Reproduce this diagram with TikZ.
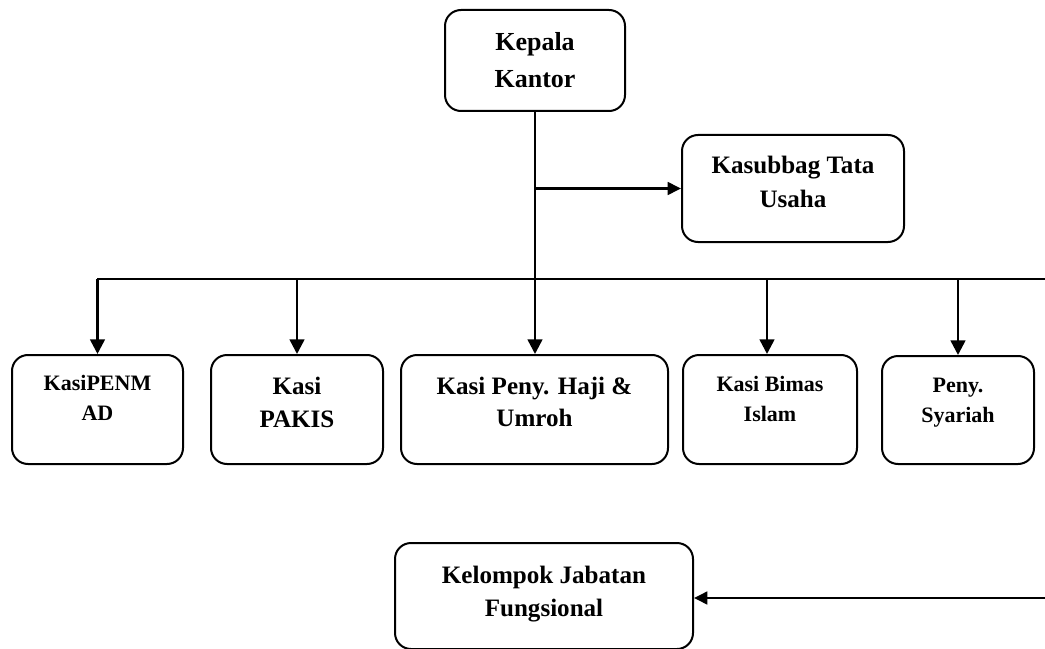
\documentclass[tikz,border=0pt]{standalone}
\usepackage{fontspec}
\setmainfont{Liberation Serif}
\usetikzlibrary{arrows.meta}
\newcommand{\twoline}[3]{\vtop{\baselineskip=#3\relax\halign{\hfil##\hfil\cr #1\cr #2\cr}}}
\tikzset{
  box/.style={draw, line width=1.5pt, rounded corners=12pt, inner sep=0pt, anchor=north west},
  bigtxt/.style={font=\bfseries\fontsize{18.8}{22}\selectfont},
  smalltxt/.style={font=\bfseries\fontsize{16.5}{20}\selectfont},
  arr/.style={line width=1.9pt, -{Triangle[length=11pt,width=11pt]}},
  arrs/.style={line width=1.9pt, -{Triangle[length=10pt,width=9.5pt]}},
  bus/.style={line width=1.2pt}
}
\begin{document}
\begin{tikzpicture}[x=0.75pt,y=-0.75pt]
\useasboundingbox (0,0) rectangle (1045,649);
% boxes
\node[box, minimum width=135pt, text height=30.75pt, text depth=45pt, font=\bfseries\fontsize{19.5}{22}\selectfont] (kepala) at (444,9) {\twoline{Kepala}{Kantor}{27.75pt}};
\node[box, bigtxt, minimum width=166.5pt, text height=29.25pt, text depth=51pt] (tu) at (681,134) {\twoline{Kasubbag Tata}{Usaha}{24.75pt}};
\node[box, smalltxt, minimum width=128.25pt, text height=26.25pt, text depth=55.5pt] (penmad) at (11,354) {\twoline{KasiPENM}{AD}{22.5pt}};
\node[box, bigtxt, minimum width=129pt, text height=29.25pt, text depth=52.5pt] (pakis) at (210,354) {\twoline{Kasi}{PAKIS}{24.75pt}};
\node[box, bigtxt, minimum width=200.25pt, text height=29.25pt, text depth=52.5pt] (haji) at (400,354) {\twoline{Kasi Peny. Haji \&}{Umroh}{24pt}};
\node[box, smalltxt, minimum width=130.5pt, text height=27pt, text depth=54.75pt] (bimas) at (682,354) {\twoline{Kasi Bimas}{Islam}{22.5pt}};
\node[box, smalltxt, minimum width=114pt, text height=27pt, text depth=54pt] (syariah) at (881,355) {\twoline{Peny.}{Syariah}{22.5pt}};
\node[box, bigtxt, minimum width=223.5pt, text height=30pt, text depth=49.5pt] (kjf) at (394,542) {\twoline{Kelompok Jabatan}{Fungsional}{24.75pt}};
% free ends
\coordinate (busL) at (97,279);
\coordinate (busR) at (1045,279);
\coordinate (kjR) at (1045,598);
% connectors
\draw[arr] (kepala.south) -- (kepala.south |- haji.north);
\draw[arrs] (kepala.south |- tu.west) -- (tu.west);
\draw[bus] (busL) -- (busR);
\draw[arr] (penmad.north |- busL) -- (penmad.north);
\draw[arr] (pakis.north |- busL) -- (pakis.north);
\draw[arr] ([xshift=-2.25pt]bimas.north |- busL) -- ([xshift=-2.25pt]bimas.north);
\draw[arr] (syariah.north |- busL) -- (syariah.north);
\draw[arrs] (kjR) -- (kjf.east |- kjR);
\end{tikzpicture}
\end{document}
